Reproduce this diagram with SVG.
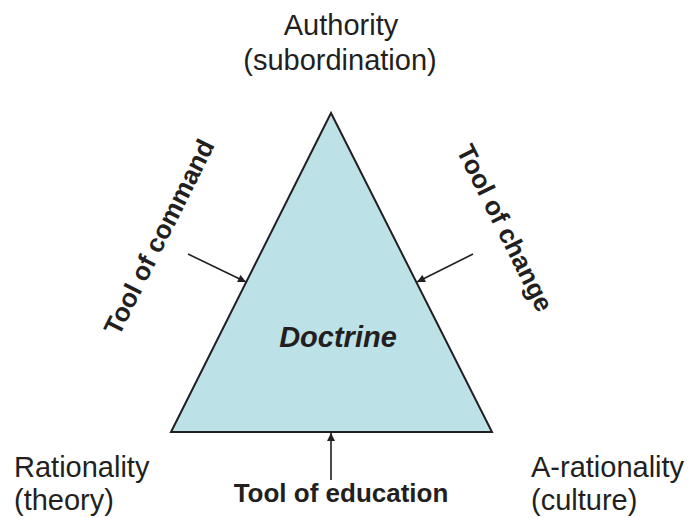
<svg xmlns="http://www.w3.org/2000/svg" width="691" height="518" viewBox="0 0 691 518">
<defs>
<style>
.lbl{font-family:"Liberation Sans",Arial,sans-serif;font-size:29px;fill:#231f20}
.tool{font-family:"Liberation Sans",Arial,sans-serif;font-size:26px;font-weight:bold;fill:#231f20}
.conn{stroke:#231f20;stroke-width:1.6;fill:none;marker-end:url(#ah)}
</style>
<marker id="ah" viewBox="0 0 10 10" refX="10" refY="5" markerWidth="9" markerHeight="8" markerUnits="userSpaceOnUse" orient="auto">
<path d="M0,0 L10,5 L0,10 z" fill="#231f20"/>
</marker>
</defs>
<rect width="691" height="518" fill="#ffffff"/>
<g id="doctrine">
<polygon points="331,113 492,432 171,432" fill="#bce1e7" stroke="#231f20" stroke-width="2" stroke-linejoin="miter"/>
<text x="338" y="347" text-anchor="middle" font-family="Liberation Sans, Arial, sans-serif" font-size="29" font-weight="bold" font-style="italic" fill="#231f20">Doctrine</text>
</g>
<g id="authority">
<text class="lbl" x="341" y="35" text-anchor="middle">Authority</text>
<text class="lbl" x="340" y="70" text-anchor="middle">(subordination)</text>
</g>
<g id="rationality">
<text class="lbl" x="14" y="477">Rationality</text>
<text class="lbl" x="14" y="510">(theory)</text>
</g>
<g id="a-rationality">
<text class="lbl" x="531" y="477">A-rationality</text>
<text class="lbl" x="531" y="510">(culture)</text>
</g>
<g id="tool-command">
<text class="tool" text-anchor="middle" transform="translate(167,241) rotate(-63.4)">Tool of command</text>
</g>
<g id="tool-change">
<text class="tool" text-anchor="middle" transform="translate(497,232) rotate(63.4)">Tool of change</text>
</g>
<g id="tool-education">
<text class="tool" x="341" y="502" text-anchor="middle">Tool of education</text>
</g>
<g id="connectors">
<line class="conn" x1="188" y1="254" x2="246" y2="282"/>
<line class="conn" x1="473" y1="254" x2="417" y2="282"/>
<line class="conn" x1="331" y1="480" x2="331" y2="433"/>
</g>
</svg>
